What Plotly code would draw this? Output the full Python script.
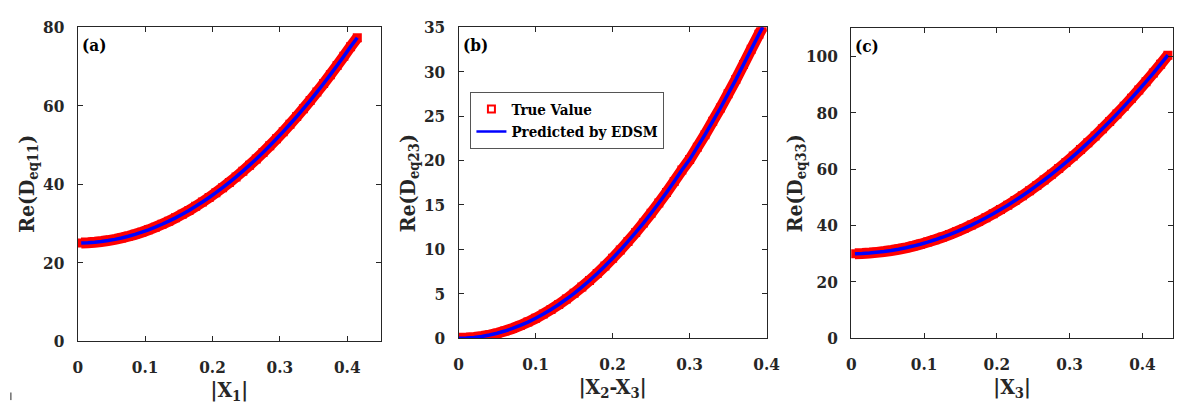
import plotly.graph_objects as go

# ---------------- data ----------------
x_a = [0.005, 0.015, 0.025, 0.035, 0.045, 0.055, 0.065, 0.075, 0.085, 0.095,
       0.105, 0.115, 0.125, 0.135, 0.145, 0.155, 0.165, 0.175, 0.185, 0.195,
       0.205, 0.215, 0.225, 0.235, 0.245, 0.255, 0.265, 0.275, 0.285, 0.295,
       0.305, 0.315, 0.325, 0.335, 0.345, 0.355, 0.365, 0.375, 0.385, 0.395,
       0.405, 0.415]
y_a = [25.0, 25.07, 25.19, 25.37, 25.62, 25.92, 26.29, 26.72, 27.2, 27.75,
       28.36, 29.03, 29.77, 30.56, 31.41, 32.33, 33.3, 34.34, 35.44, 36.6,
       37.82, 39.1, 40.44, 41.84, 43.31, 44.83, 46.42, 48.07, 49.77, 51.54,
       53.37, 55.26, 57.22, 59.23, 61.3, 63.44, 65.63, 67.89, 70.21, 72.59,
       75.03, 77.3]

x_b = [0.0, 0.01, 0.02, 0.03, 0.04, 0.05, 0.06, 0.07, 0.08, 0.09,
       0.10, 0.11, 0.12, 0.13, 0.14, 0.15, 0.16, 0.17, 0.18, 0.19,
       0.20, 0.21, 0.22, 0.23, 0.24, 0.25, 0.26, 0.27, 0.28, 0.29,
       0.30, 0.31, 0.32, 0.33, 0.34, 0.35, 0.36, 0.37, 0.38, 0.39, 0.395]
y_b = [0.0, 0.02, 0.09, 0.2, 0.36, 0.56, 0.81, 1.1, 1.44, 1.82,
       2.25, 2.72, 3.24, 3.8, 4.41, 5.06, 5.76, 6.5, 7.29, 8.12,
       9.0, 9.92, 10.89, 11.9, 12.96, 14.06, 15.21, 16.4, 17.64, 18.92,
       20.1, 21.5, 22.9, 24.4, 25.9, 27.5, 29.1, 30.8, 32.5, 34.2, 35.0]

x_c = [0.005, 0.015, 0.025, 0.035, 0.045, 0.055, 0.065, 0.075, 0.085, 0.095,
       0.105, 0.115, 0.125, 0.135, 0.145, 0.155, 0.165, 0.175, 0.185, 0.195,
       0.205, 0.215, 0.225, 0.235, 0.245, 0.255, 0.265, 0.275, 0.285, 0.295,
       0.305, 0.315, 0.325, 0.335, 0.345, 0.355, 0.365, 0.375, 0.385, 0.395,
       0.405, 0.415, 0.425, 0.435]
y_c = [30.0, 30.08, 30.23, 30.46, 30.75, 31.13, 31.57, 32.09, 32.69, 33.36,
       34.1, 34.92, 35.81, 36.78, 37.82, 38.94, 40.13, 41.39, 42.73, 44.14,
       45.63, 47.2, 48.83, 50.54, 52.33, 54.19, 56.12, 58.13, 60.22, 62.37,
       64.6, 66.91, 69.29, 71.75, 74.28, 76.88, 79.56, 82.31, 85.14, 88.04,
       91.01, 94.06, 97.19, 100.4]

panel_labels = ["(a)", "(b)", "(c)"]
x_titles = ["|X<sub>1</sub>|", "|X<sub>2</sub>-X<sub>3</sub>|", "|X<sub>3</sub>|"]
y_titles = ["Re(D<sub>eq11</sub>)", "Re(D<sub>eq23</sub>)", "Re(D<sub>eq33</sub>)"]
legend_names = ["True Value", "Predicted by EDSM"]

# ---------------- figure ----------------
W, H = 1187, 412
FONT = "DejaVu Serif Condensed, DejaVu Serif"
INK = "#262626"
RED = "#ff0000"
BLUE = "#0000ff"

fig = go.Figure()

# (values, x-pixel span, y-pixel span, x range, y range, y tick step, y-title centre x)
panels = [
    (x_a, y_a, [74, 382], [18, 348], [0, 0.45], [0, 80], 20, 22),
    (x_b, y_b, [461, 774], [18, 345], [0, 0.4], [0, 35], 5, 410),
    (x_c, y_c, [860, 1187], [19, 345], [0, 0.442], [0, 110], 20, 803),
]

for i, (xs, ys, xpx, ypx, xr, yr, dy, ytx) in enumerate(panels):
    sfx = "" if i == 0 else str(i + 1)
    xa, ya = "x" + sfx, "y" + sfx
    # true values: red band of square markers
    fig.add_trace(go.Scatter(x=xs, y=ys, xaxis=xa, yaxis=ya, mode="lines",
                             line=dict(color=RED, width=11, simplify=False),
                             showlegend=False, hoverinfo="skip"))
    fig.add_trace(go.Scatter(x=xs, y=ys, xaxis=xa, yaxis=ya, mode="markers",
                             marker=dict(symbol="square", size=9, color=RED,
                                         line=dict(width=0)),
                             name=legend_names[0], showlegend=False))
    # predicted
    fig.add_trace(go.Scatter(x=xs, y=ys, xaxis=xa, yaxis=ya, mode="lines",
                             line=dict(color=BLUE, width=3.5, simplify=False),
                             name=legend_names[1], showlegend=False))

    axcommon = dict(showgrid=False, zeroline=False, showline=True, linecolor=INK,
                    linewidth=1, mirror="ticks", ticks="inside", ticklen=5,
                    tickcolor=INK,
                    tickfont=dict(family=FONT, size=17, color=INK, weight="bold"),
                    title_font=dict(family=FONT, size=21, color=INK, weight="bold"))
    fig.layout["xaxis" + sfx] = dict(
        axcommon, domain=[xpx[0] / W, xpx[1] / W], range=xr, anchor=ya,
        tick0=0, dtick=0.1, ticklabelstandoff=10,
        title=dict(text=x_titles[i], standoff=6))
    fig.layout["yaxis" + sfx] = dict(
        axcommon, domain=[1 - ypx[1] / H, 1 - ypx[0] / H], range=yr, anchor=xa,
        tick0=0, dtick=dy, ticklabelstandoff=9)
    # y-axis title
    fig.add_annotation(text=y_titles[i], xref="paper", yref="paper",
                       x=ytx / W, y=1 - (ypx[0] + ypx[1]) / 2 / H,
                       xanchor="center", yanchor="middle", textangle=-90,
                       showarrow=False,
                       font=dict(family=FONT, size=21, color=INK, weight="bold"))
    # panel label
    fig.add_annotation(text=panel_labels[i], xref="paper", yref="paper",
                       x=(xpx[0] + 2) / W, y=1 - (ypx[0] + 6) / H, xanchor="left", yanchor="top",
                       showarrow=False,
                       font=dict(family=FONT, size=17, color="#000000", weight="bold"))

# legend entries
fig.add_trace(go.Scatter(x=[None], y=[None], xaxis="x2", yaxis="y2", mode="markers",
                         marker=dict(symbol="square-open", size=7, color=RED,
                                     line=dict(color=RED, width=2)),
                         name=legend_names[0], showlegend=True))
fig.add_trace(go.Scatter(x=[None], y=[None], xaxis="x2", yaxis="y2", mode="lines",
                         line=dict(color=BLUE, width=2.5),
                         name=legend_names[1], showlegend=True))

fig.update_layout(
    width=W, height=H, margin=dict(l=0, r=0, t=0, b=0),
    paper_bgcolor="white", plot_bgcolor="white",
    font=dict(family=FONT, color=INK),
    legend=dict(x=473 / W, y=1 - 86 / H, xanchor="left", yanchor="top",
                bgcolor="white", bordercolor="#555555", borderwidth=1,
                font=dict(family=FONT, size=15, color="#000000", weight="bold"),
                tracegroupgap=0, itemwidth=30),
    shapes=[dict(type="line", xref="paper", yref="paper", x0=6 / W, x1=6 / W,
                 y0=1 - 402 / H, y1=1 - 410 / H, line=dict(color=INK, width=1))],
)

fig.write_html("out.html")
